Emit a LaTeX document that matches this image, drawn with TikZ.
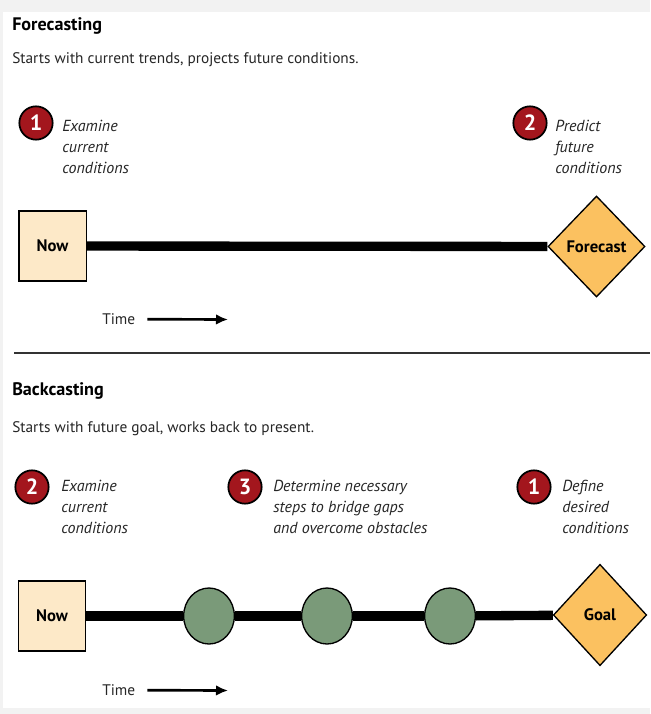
\documentclass[tikz,border=0pt]{standalone}
\usepackage{fontspec}
\setmainfont{PT Sans}
\usetikzlibrary{positioning,shapes.geometric,arrows.meta}

\definecolor{bggray}{HTML}{F2F2F2}
\definecolor{txtgray}{HTML}{262626}
\definecolor{numred}{HTML}{A3161D}
\definecolor{nowfill}{HTML}{FDE9C8}
\definecolor{goalfill}{HTML}{FBC160}
\definecolor{stepfill}{HTML}{7A9A79}

\begin{document}
\begin{tikzpicture}[x=0.75pt, y=-0.75pt,
    every node/.style={font=\fontsize{11.5}{13}\selectfont, text=txtgray},
    heading/.style={anchor=base west, inner sep=0, text=black, font=\bfseries\fontsize{13.6}{15}\selectfont},
    subline/.style={anchor=base west, inner sep=0},
    numdot/.style={circle, draw=black, line width=1.3pt, fill=numred, minimum size=25pt, inner sep=0, text=white, font=\bfseries\fontsize{16.5}{17}\selectfont},
    note/.style={anchor=north west, inner sep=0, align=left, font=\itshape\fontsize{12}{15.75}\selectfont},
    nowbox/.style={rectangle, draw=black, line width=1pt, fill=nowfill, minimum width=50.5pt, minimum height=52.5pt, inner sep=0, text=black, font=\bfseries\fontsize{12.5}{14}\selectfont},
    goalbox/.style={diamond, draw=black, line width=1pt, fill=goalfill, inner sep=0, text=black, font=\bfseries\fontsize{12.5}{14}\selectfont},
    stepdot/.style={ellipse, draw=black, line width=1pt, fill=stepfill, minimum width=38pt, minimum height=42pt},
    timeline/.style={line width=7pt},
    timearrow/.style={-{Latex[length=9pt,width=8pt]}, line width=2pt, black}]

    % Page and margins
    \useasboundingbox (0,0) rectangle (650,714);
    \fill[bggray] (0,0) rectangle (650,714);
    \fill[white] (3,12) rectangle (650,708);

    % Forecasting
    \node (fchead) [heading] at (12,30) {Forecasting};
    \node (fcsub) [subline] at (12,63) {Starts with current trends, projects future conditions.};

    % Numbered notes
    \node (fcone) [numdot] at (36,123) {1};
    \node (fconetext) [note] at (62,120) {Examine\\current\\conditions};
    \node (fctwo) [numdot] at (530,123) {2};
    \node (fctwotext) [note] at (555,120) {Predict\\future\\conditions};

    % Timeline
    \node (fcnow) [nowbox] at (52.5,246) {Now};
    \node (fcend) [goalbox, minimum width=72.75pt, minimum height=75.75pt] at (596.5,246.5) {Forecast};
    \draw[timeline] (fcnow) -- (fcend);

    % Time arrow
    \node (fctime) [subline] at (102,324) {Time};
    \coordinate (fcarrow) at (228,319.5);
    \draw[timearrow] ([xshift=9pt, yshift=3.6pt]fctime.base east) -- (fcarrow);

    % Separator
    \coordinate (sepl) at (14,353);
    \coordinate (sepr) at (650,353);
    \draw[line width=1pt, black!80] (sepl) -- (sepr);

    % Backcasting
    \node (bchead) [heading] at (12,395) {Backcasting};
    \node (bcsub) [subline] at (12,432) {Starts with future goal, works back to present.};

    % Numbered notes
    \node (bctwo) [numdot] at (32,487) {2};
    \node (bctwotext) [note] at (61,480) {Examine\\current\\conditions};
    \node (bcthree) [numdot] at (245,487) {3};
    \node (bcthreetext) [note] at (273,480) {Determine necessary\\steps to bridge gaps\\and overcome obstacles};
    \node (bcone) [numdot] at (534,487) {1};
    \node (bconetext) [note] at (562,480) {Define\\desired\\conditions};

    % Timeline with steps
    \node (bcnow) [nowbox] at (52,616) {Now};
    \node (stepa) [stepdot] at (209,616) {};
    \node (stepb) [stepdot] at (327,616) {};
    \node (stepc) [stepdot] at (450,616) {};
    \node (bcgoal) [goalbox, minimum width=70pt, minimum height=76pt] at (600,615) {Goal};
    \draw[timeline] (bcnow) -- (stepa);
    \draw[timeline] (stepa) -- (stepb);
    \draw[timeline] (stepb) -- (stepc);
    \draw[timeline] (stepc) -- (bcgoal);

    % Time arrow
    \node (bctime) [subline] at (102,695) {Time};
    \coordinate (bcarrow) at (228,690.5);
    \draw[timearrow] ([xshift=9pt, yshift=3.6pt]bctime.base east) -- (bcarrow);

\end{tikzpicture}
\end{document}
